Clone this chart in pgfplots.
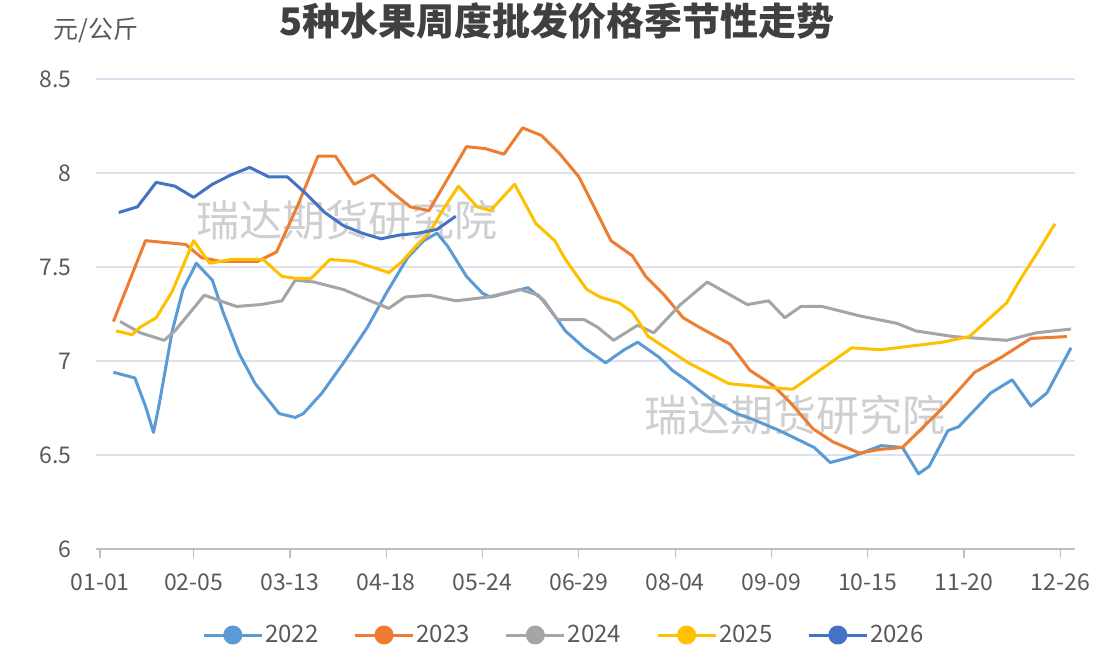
\documentclass[border=0pt]{standalone}
\usepackage{fontspec}
\setmainfont{Noto Sans CJK SC}
\usepackage{pgfplots}
\pgfplotsset{compat=1.18}

\definecolor{c22}{HTML}{5B9BD5}
\definecolor{c23}{HTML}{ED7D31}
\definecolor{c24}{HTML}{A5A5A5}
\definecolor{c25}{HTML}{FFC000}
\definecolor{c26}{HTML}{4472C4}
\definecolor{txt}{HTML}{595959}
\definecolor{ttl}{HTML}{404040}
\definecolor{gridc}{HTML}{DDE2EE}
\definecolor{axc}{HTML}{BFBFBF}
\definecolor{wm}{HTML}{CFCFCF}

\begin{document}
\begin{tikzpicture}
% watermarks (under the lines)
\node[text=wm, font=\fontsize{43bp}{43bp}\selectfont] at (251bp,329bp) {瑞达期货研究院};
\node[text=wm, font=\fontsize{43bp}{43bp}\selectfont] at (699bp,134bp) {瑞达期货研究院};

\begin{axis}[
  at={(0bp,0bp)}, anchor=south west,
  scale only axis, width=979bp, height=470bp,
  xmin=-1.5, xmax=364.5, ymin=6, ymax=8.5,
  xtick={0,35,71,107,143,179,215,251,287,323,359},
  xticklabels={01-01,02-05,03-13,04-18,05-24,06-29,08-04,09-09,10-15,11-20,12-26},
  ytick={6,6.5,7,7.5,8,8.5},
  axis line style={draw=none},
  xtick pos=left, tick align=outside, major tick length=9bp,
  xtick style={draw=axc, line width=1.2bp},
  ytick style={draw=none},
  ymajorgrids, grid style={gridc, line width=1.2bp},
  /pgf/number format/assume math mode=true,
  tick label style={font=\fontsize{23bp}{27bp}\selectfont, text=txt},
  xticklabel style={yshift=-12bp},
  yticklabel style={xshift=-12bp},
  every axis plot/.append style={line width=3bp, line join=round, mark=none},
  legend columns=5,
  legend cell align=left,
  legend style={draw=none, fill=none, at={(0.478,-0.183)}, anchor=center,
    font=\fontsize{24bp}{28bp}\selectfont, text=txt,
    /tikz/every even column/.append style={column sep=33bp}},
  legend image code/.code={
    \draw[#1, line width=3bp] (0bp,0bp) -- (58bp,0bp);
    \fill[#1] (29bp,0bp) circle (8bp);},
]

% 2022
\addplot[c22] coordinates {
(5,6.94) (13,6.91) (17,6.76) (20,6.62) (22,6.76) (27,7.16) (31,7.38) (36,7.52)
(42,7.43) (46,7.26) (52,7.04) (58,6.88) (67,6.72) (73,6.70) (76,6.72) (83,6.83)
(92,7.01) (100,7.18) (107,7.36) (115,7.55) (121,7.64) (126,7.68) (130,7.61)
(137,7.45) (143,7.36) (146,7.34) (160,7.39) (166,7.32) (174,7.16) (181,7.07)
(189,6.99) (196,7.06) (201,7.10) (209,7.02) (214,6.95) (219,6.90) (229,6.79)
(238,6.72) (244,6.69) (254,6.63) (267,6.54) (273,6.46) (281,6.49) (292,6.55)
(300,6.54) (306,6.40) (310,6.44) (317,6.63) (321,6.65) (333,6.83) (341,6.90)
(348,6.76) (354,6.83) (363,7.07)
};
\addlegendentry{2022}

% 2023
\addplot[c23] coordinates {
(5,7.21) (17,7.64) (32,7.62) (38,7.55) (45,7.53) (52,7.53) (59,7.53) (66,7.58)
(74,7.83) (81.5,8.09) (88,8.09) (95,7.94) (102,7.99) (109,7.90) (116,7.82)
(123,7.80) (130,7.97) (137,8.14) (144,8.13) (151,8.10) (158,8.24) (165,8.20)
(172,8.10) (179,7.98) (184,7.84) (191,7.64) (199,7.56) (204,7.45) (211,7.35)
(218,7.23) (224,7.18) (235.5,7.09) (243,6.95) (251.6,6.87) (258,6.78)
(266.5,6.64) (274,6.57) (284,6.51) (291.6,6.53) (300,6.54) (315,6.75)
(327,6.94) (337,7.02) (348,7.12) (361.5,7.13)
};
\addlegendentry{2023}

% 2024
\addplot[c24] coordinates {
(7.5,7.21) (15,7.15) (24,7.11) (28,7.16) (39,7.35) (51,7.29) (60,7.30) (68,7.32)
(73,7.43) (80,7.42) (91,7.38) (101,7.32) (108,7.28) (114,7.34) (123,7.35)
(133,7.32) (145,7.34) (157,7.38) (164,7.35) (171,7.22) (181,7.22) (186,7.18)
(192,7.11) (201,7.19) (207,7.15) (217,7.30) (227,7.42) (242,7.30) (250,7.32)
(256,7.23) (262,7.29) (270,7.29) (284,7.24) (298,7.20) (305,7.16) (319,7.13)
(339,7.11) (350,7.15) (363,7.17)
};
\addlegendentry{2024}

% 2025
\addplot[c25] coordinates {
(6,7.16) (12,7.14) (15,7.18) (21,7.23) (27,7.37) (35,7.64) (41,7.52) (49,7.54)
(61,7.54) (68,7.45) (73,7.44) (79,7.44) (86,7.54) (95,7.53) (108,7.47)
(113,7.53) (118,7.61) (123,7.68) (128,7.80) (134,7.93) (141,7.82) (146,7.80)
(155,7.94) (163,7.73) (170,7.64) (174,7.54) (182,7.38) (187,7.34) (194,7.31)
(199,7.26) (205,7.13) (220,6.99) (235,6.88) (249,6.86) (259,6.85) (268,6.94)
(281,7.07) (292,7.06) (315,7.10) (325,7.13) (332,7.22) (339,7.31) (343,7.41)
(351,7.59) (357,7.73)
};
\addlegendentry{2025}

% 2026
\addplot[c26] coordinates {
(7,7.79) (14,7.82) (21,7.95) (28,7.93) (35,7.87) (42,7.94) (49,7.99) (56,8.03)
(63,7.98) (70,7.98) (77,7.89) (84,7.79) (91,7.72) (98,7.68) (105,7.65)
(112,7.67) (119,7.68) (126,7.70) (133,7.77)
};
\addlegendentry{2026}

\end{axis}

% x axis line
\draw[axc, line width=1.5bp] (0bp,0bp) -- (979bp,0bp);

% unit and title
\node[anchor=west, text=txt, font=\fontsize{25bp}{25bp}\selectfont] at (-46bp,519bp) {元/公斤};
\node[anchor=base, text=ttl, font=\fontsize{38bp}{38bp}\selectfont\bfseries] at (461bp,513bp) {5种水果周度批发价格季节性走势};

\pgfresetboundingbox
\useasboundingbox (-96bp,-113bp) rectangle (1021bp,549bp);
\end{tikzpicture}
\end{document}
